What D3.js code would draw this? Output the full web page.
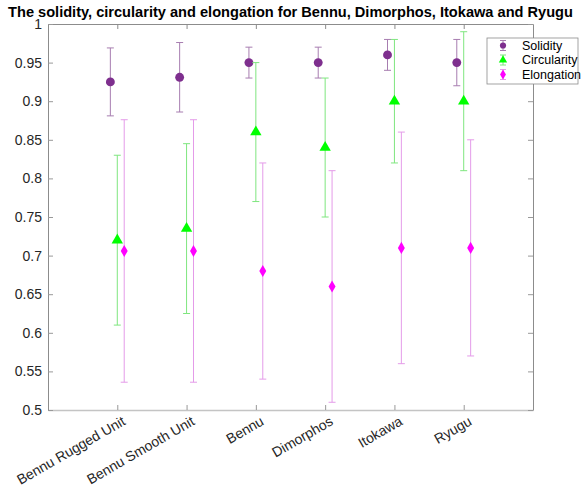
<!DOCTYPE html>
<html>
<head>
<meta charset="utf-8">
<script src="https://cdn.jsdelivr.net/npm/d3@7"></script>
<style>
  body { margin: 0; background: #fff; }
  svg { font-family: "Liberation Sans", Arial, Helvetica, sans-serif; }
</style>
</head>
<body>
<div id="chart"></div>
<script>
// categories along the x axis
const bodies = ["Bennu Rugged Unit", "Bennu Smooth Unit", "Bennu", "Dimorphos", "Itokawa", "Ryugu"];

// mean values and symmetric errors
const solidity = [0.925, 0.931, 0.95, 0.95, 0.96, 0.95];
const solidityErr = [0.044, 0.045, 0.02, 0.02, 0.02, 0.03];
const circularity = [0.72, 0.735, 0.86, 0.84, 0.90, 0.90];
const circularityErr = [0.11, 0.11, 0.09, 0.09, 0.08, 0.09];
const elongation = [0.706, 0.706, 0.68, 0.66, 0.71, 0.71];
const elongationErr = [0.17, 0.17, 0.14, 0.15, 0.15, 0.14];

const yTicks = [0.5, 0.55, 0.6, 0.65, 0.7, 0.75, 0.8, 0.85, 0.9, 0.95, 1];

function ErrorbarChart({
    target,
    width = 581,
    height = 485,
    marginTop = 24,
    marginRight = 48,
    marginBottom = 75,
    marginLeft = 48,
} = {}) {
    const svg = d3.select(target)
        .append("svg")
        .attr("width", width)
        .attr("height", height);

    const x = d3.scaleLinear().domain([0, bodies.length + 1]).range([marginLeft, width - marginRight]);
    const y = d3.scaleLinear().domain([0.5, 1]).range([height - marginBottom, marginTop]);
    const fmt = d => String(+d.toFixed(2));

    // series: values, errors, x offset, colours, marker
    const series = [
        {name: "Solidity", vals: solidity, errs: solidityErr, dx: -0.1, fill: "#7E2F8E", line: "#a77db0", shape: d3.symbolCircle, size: 62},
        {name: "Circularity", vals: circularity, errs: circularityErr, dx: 0, fill: "#00ff00", line: "#7fe67f", shape: d3.symbolTriangle, size: 56},
        {name: "Elongation", vals: elongation, errs: elongationErr, dx: 0.1, fill: "#ff00ff", line: "#e49be9", shape: d3.symbolDiamond, size: 42},
    ];

    // axes box, ticks point inward like matlab
    const xTickVals = bodies.map((d, i) => i + 1);
    svg.append("g")
        .attr("transform", `translate(0,${y(0.5)})`)
        .call(d3.axisBottom(x).tickValues(xTickVals).tickFormat("").tickSizeInner(-5).tickSizeOuter(0))
        .call(g => g.select(".domain").attr("stroke", "#c4c4c4").attr("stroke-width", 1.6))
        .call(g => g.selectAll(".tick line").attr("stroke", "#999"));
    svg.append("g")
        .attr("transform", `translate(0,${y(1)})`)
        .call(d3.axisTop(x).tickValues(xTickVals).tickFormat("").tickSizeInner(-5).tickSizeOuter(0))
        .call(g => g.select(".domain").attr("stroke", "#8c8c8c"))
        .call(g => g.selectAll(".tick line").attr("stroke", "#8c8c8c"));
    svg.append("g")
        .attr("transform", `translate(${x(0)},0)`)
        .call(d3.axisLeft(y).tickValues(yTicks).tickFormat(fmt).tickSizeInner(-5).tickSizeOuter(0).tickPadding(6))
        .call(g => g.select(".domain").attr("stroke", "#8c8c8c"))
        .call(g => g.selectAll(".tick line").attr("stroke", "#999"))
        .call(g => g.selectAll("text").attr("font-size", 14).attr("fill", "#262626").attr("font-family", null));
    svg.append("g")
        .attr("transform", `translate(${x(bodies.length + 1)},0)`)
        .call(d3.axisRight(y).tickValues(yTicks).tickFormat("").tickSizeInner(-5).tickSizeOuter(0))
        .call(g => g.select(".domain").attr("stroke", "#8c8c8c"))
        .call(g => g.selectAll(".tick line").attr("stroke", "#999"));

    // rotated category labels
    svg.append("g").selectAll("text")
        .data(bodies).enter().append("text")
        .attr("transform", (d, i) => `translate(${x(i + 1) + 9},${y(0.5) + 14}) rotate(-30)`)
        .attr("text-anchor", "end")
        .attr("font-size", 14)
        .attr("fill", "#262626")
        .text(d => d);

    // error bars and markers
    const cap = 3.5;
    series.forEach(s => {
        const g = svg.append("g");
        const pts = s.vals.map((v, i) => ({cx: x(i + 1 + s.dx), v, e: s.errs[i]}));
        g.selectAll("path.bar").data(pts).enter().append("path")
            .attr("d", d => {
                const t = y(d.v + d.e), b = y(d.v - d.e);
                return `M${d.cx},${t}V${b}M${d.cx - cap},${t}H${d.cx + cap}M${d.cx - cap},${b}H${d.cx + cap}`;
            })
            .attr("stroke", s.line).attr("stroke-width", 1).attr("fill", "none");
        g.selectAll("path.mark").data(pts).enter().append("path")
            .attr("transform", d => `translate(${d.cx},${y(d.v)})`)
            .attr("d", d3.symbol().type(s.shape).size(s.size))
            .attr("fill", s.fill);
    });

    // legend
    const lx = 487, ly = 38, lw = 91, lh = 46;
    const legend = svg.append("g");
    legend.append("rect")
        .attr("x", lx).attr("y", ly).attr("width", lw).attr("height", lh)
        .attr("fill", "#fff").attr("stroke", "#8c8c8c").attr("stroke-width", 0.8);
    series.forEach((s, i) => {
        const cy = ly + 7.5 + i * 14.5, cx = lx + 16;
        legend.append("path")
            .attr("d", `M${cx},${cy - 5}V${cy + 5}M${cx - 3},${cy - 5}H${cx + 3}M${cx - 3},${cy + 5}H${cx + 3}`)
            .attr("stroke", s.line).attr("fill", "none");
        legend.append("path")
            .attr("transform", `translate(${cx},${cy})`)
            .attr("d", d3.symbol().type(s.shape).size(30))
            .attr("fill", s.fill);
        legend.append("text")
            .attr("x", lx + 35).attr("y", cy)
            .attr("dy", "0.35em")
            .attr("font-size", 12.5)
            .attr("fill", "#000")
            .text(s.name);
    });

    // title
    svg.append("text")
        .attr("x", width / 2).attr("y", 17)
        .attr("text-anchor", "middle")
        .attr("font-size", 14.6)
        .attr("font-weight", "bold")
        .attr("fill", "#000")
        .text("The solidity, circularity and elongation for Bennu, Dimorphos, Itokawa and Ryugu");
}

ErrorbarChart({
    target: "#chart",
})
</script>
</body>
</html>
